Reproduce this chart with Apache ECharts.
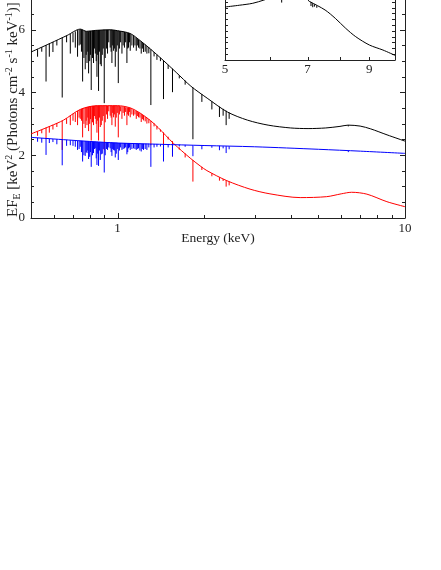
<!DOCTYPE html>
<html>
<head>
<meta charset="utf-8">
<script src="https://cdn.jsdelivr.net/npm/echarts@6/dist/echarts.min.js"></script>
<style>
  html, body { margin: 0; padding: 0; background: #fff; }
  #main { width: 441px; height: 570px; }
</style>
</head>
<body>
<div id="main"></div>
<script>
// continuum: energy (keV) and EF_E
const blackE = [0.5, 0.584, 0.668, 0.742, 0.78, 0.84, 0.943, 1.0, 1.107, 1.2, 1.3, 1.44, 1.6, 1.8, 2.05, 2.41, 2.83, 3.34, 4.0, 4.6, 5.3, 5.94, 6.34, 6.98, 7.6, 8.66, 10];
const blackF = [5.29, 5.57, 5.82, 6.02, 5.95, 5.98, 6.0, 5.97, 5.88, 5.65, 5.39, 5.03, 4.64, 4.2, 3.82, 3.38, 3.12, 2.96, 2.87, 2.85, 2.87, 2.92, 2.96, 2.93, 2.84, 2.65, 2.45];
const redE = [0.5, 0.584, 0.649, 0.742, 0.85, 1.0, 1.107, 1.2, 1.3, 1.385, 1.565, 1.789, 1.938, 2.046, 2.4, 2.89, 3.39, 4.32, 5.34, 6.0, 6.52, 7.37, 8.65, 10];
const redF = [2.68, 2.93, 3.12, 3.46, 3.58, 3.58, 3.51, 3.34, 3.11, 2.88, 2.38, 1.91, 1.66, 1.51, 1.19, 0.92, 0.77, 0.65, 0.68, 0.77, 0.82, 0.76, 0.52, 0.36];
const blueE = [0.5, 0.8, 1.0, 1.4, 2.0, 3.0, 5.0, 7.0, 10];
const blueF = [2.57, 2.44, 2.39, 2.35, 2.31, 2.27, 2.19, 2.13, 2.06];

// absorption lines, shared energies; top and bottom of each line per spectrum
const lineE = [0.527, 0.545, 0.564, 0.579, 0.596, 0.615, 0.642, 0.665, 0.685, 0.70,
  0.713, 0.726, 0.735, 0.742, 0.749, 0.756, 0.764, 0.772, 0.778, 0.783,
  0.788, 0.793, 0.80, 0.805, 0.81, 0.818, 0.825, 0.831, 0.837, 0.843,
  0.848, 0.853, 0.859, 0.865, 0.871, 0.878, 0.885, 0.892, 0.899, 0.906,
  0.915, 0.923, 0.932, 0.943, 0.95, 0.956, 0.962, 0.969, 0.975, 0.982,
  0.99, 0.998, 1.006, 1.015, 1.025, 1.036, 1.046, 1.057, 1.067, 1.078,
  1.085, 1.092, 1.10, 1.107, 1.122, 1.137, 1.15, 1.162, 1.172, 1.183,
  1.196, 1.209, 1.22, 1.231, 1.248, 1.265, 1.285, 1.306, 1.34, 1.371,
  1.41, 1.445, 1.50, 1.553, 1.64, 1.719, 1.829, 1.965, 2.129, 2.262,
  2.33, 2.387, 2.445, 6.35];
const blackTop = [5.38, 5.45, 5.51, 5.56, 5.61, 5.67, 5.75, 5.81, 5.87, 5.91,
  5.95, 5.99, 6.0, 6.02, 6.01, 6.0, 5.98, 5.96, 5.95, 5.95,
  5.95, 5.95, 5.96, 5.96, 5.96, 5.97, 5.97, 5.97, 5.98, 5.98,
  5.98, 5.98, 5.99, 5.99, 5.99, 5.99, 5.99, 6.0, 6.0, 6.0,
  6.0, 6.0, 6.0, 6.0, 6.0, 6.0, 5.99, 5.99, 5.99, 5.98,
  5.98, 5.97, 5.97, 5.96, 5.96, 5.95, 5.94, 5.93, 5.92, 5.91,
  5.9, 5.9, 5.89, 5.88, 5.84, 5.8, 5.77, 5.74, 5.71, 5.68,
  5.66, 5.63, 5.6, 5.57, 5.53, 5.48, 5.44, 5.38, 5.29, 5.21,
  5.11, 5.02, 4.88, 4.76, 4.55, 4.38, 4.16, 3.95, 3.72, 3.55,
  3.48, 3.42, 3.36, 2.96];
const blackBot = [5.14, 5.3, 4.35, 5.14, 5.29, 5.5, 3.84, 5.6, 5.24, 5.6,
  5.43, 5.14, 5.5, 5.53, 5.3, 4.35, 5.1, 4.74, 5.2, 4.94,
  5.3, 4.61, 5.0, 5.2, 4.08, 5.1, 4.94, 5.4, 5.24, 5.0,
  4.5, 5.2, 4.05, 5.3, 4.9, 4.84, 5.2, 5.4, 3.66, 5.1,
  5.4, 5.24, 5.6, 5.43, 5.3, 4.94, 5.5, 5.33, 5.4, 4.82,
  5.3, 5.5, 4.3, 5.4, 5.6, 5.24, 5.5, 5.43, 5.6, 4.94,
  5.4, 5.43, 5.6, 5.33, 5.5, 5.43, 5.5, 5.33, 5.5, 5.43,
  5.4, 5.24, 5.4, 5.29, 5.3, 5.24, 5.25, 3.6, 5.15, 5.04,
  5.0, 3.79, 4.75, 4.01, 4.45, 4.25, 2.51, 3.7, 3.46, 3.22,
  3.26, 2.96, 3.16, 2.92];
const redTop = [2.76, 2.82, 2.88, 2.92, 2.97, 3.03, 3.1, 3.18, 3.26, 3.32,
  3.36, 3.41, 3.44, 3.46, 3.48, 3.5, 3.51, 3.52, 3.53, 3.54,
  3.54, 3.55, 3.56, 3.56, 3.56, 3.57, 3.57, 3.57, 3.58, 3.58,
  3.58, 3.58, 3.58, 3.58, 3.58, 3.58, 3.58, 3.58, 3.58, 3.58,
  3.58, 3.58, 3.58, 3.58, 3.58, 3.58, 3.58, 3.58, 3.58, 3.58,
  3.58, 3.58, 3.58, 3.57, 3.56, 3.56, 3.55, 3.54, 3.53, 3.53,
  3.52, 3.52, 3.51, 3.51, 3.48, 3.45, 3.43, 3.41, 3.39, 3.37,
  3.35, 3.32, 3.29, 3.27, 3.23, 3.19, 3.15, 3.1, 3.02, 2.93,
  2.82, 2.73, 2.59, 2.45, 2.25, 2.06, 1.85, 1.63, 1.43, 1.3,
  1.24, 1.2, 1.16, 0.82];
const redBot = [2.62, 2.7, 2.52, 2.72, 2.82, 2.9, 2.17, 3.0, 2.96, 3.1,
  3.06, 2.96, 3.2, 3.16, 3.1, 2.57, 3.0, 2.87, 3.1, 2.96,
  3.2, 2.77, 3.0, 3.15, 2.47, 3.05, 2.96, 3.25, 3.16, 3.0,
  2.72, 3.1, 2.47, 3.2, 2.9, 2.96, 3.1, 3.25, 2.17, 3.05,
  3.3, 3.16, 3.4, 3.26, 3.2, 2.96, 3.35, 3.21, 3.3, 2.91,
  3.2, 3.35, 2.57, 3.3, 3.4, 3.16, 3.35, 3.26, 3.38, 2.96,
  3.3, 3.26, 3.38, 3.21, 3.3, 3.26, 3.3, 3.16, 3.25, 3.21,
  3.2, 3.06, 3.15, 3.11, 3.08, 3.01, 3.02, 2.32, 2.92, 2.82,
  2.75, 2.32, 2.5, 1.96, 2.18, 1.93, 1.16, 1.53, 1.33, 1.19,
  1.18, 1.0, 1.04, 0.82];
const blueTop = [2.56, 2.55, 2.54, 2.53, 2.52, 2.51, 2.5, 2.49, 2.48, 2.48,
  2.47, 2.47, 2.46, 2.46, 2.46, 2.46, 2.45, 2.45, 2.45, 2.44,
  2.44, 2.44, 2.44, 2.43, 2.43, 2.43, 2.43, 2.43, 2.43, 2.43,
  2.43, 2.42, 2.42, 2.42, 2.42, 2.42, 2.42, 2.42, 2.42, 2.41,
  2.41, 2.41, 2.41, 2.41, 2.41, 2.41, 2.4, 2.4, 2.4, 2.4,
  2.4, 2.4, 2.39, 2.39, 2.39, 2.39, 2.39, 2.39, 2.39, 2.39,
  2.39, 2.39, 2.39, 2.38, 2.38, 2.38, 2.38, 2.38, 2.38, 2.38,
  2.38, 2.37, 2.37, 2.37, 2.37, 2.37, 2.37, 2.36, 2.36, 2.36,
  2.35, 2.35, 2.35, 2.34, 2.34, 2.33, 2.32, 2.31, 2.3, 2.3,
  2.29, 2.29, 2.29, 2.14];
const blueBot = [2.43, 2.4, 2.01, 2.39, 2.42, 2.35, 1.68, 2.3, 2.32, 2.3,
  2.27, 2.17, 2.2, 2.27, 2.1, 1.8, 2.0, 1.98, 2.1, 2.07,
  2.15, 1.88, 1.95, 2.1, 1.63, 2.0, 2.07, 2.2, 2.22, 1.9,
  1.69, 2.05, 1.66, 2.15, 1.85, 2.03, 2.05, 2.2, 1.45, 2.0,
  2.2, 2.17, 2.25, 2.22, 2.1, 1.98, 2.2, 2.17, 2.15, 1.93,
  2.05, 2.2, 1.85, 2.15, 2.25, 2.17, 2.2, 2.22, 2.25, 2.03,
  2.1, 2.22, 2.25, 2.17, 2.2, 2.22, 2.2, 2.17, 2.2, 2.22,
  2.15, 2.12, 2.2, 2.17, 2.2, 2.17, 2.25, 1.63, 2.25, 2.27,
  2.28, 1.8, 2.25, 1.96, 2.28, 2.27, 1.97, 2.19, 2.24, 2.16,
  2.22, 2.07, 2.19, 2.1];

// inset (5-10 keV zoom)
const insetE = [5.0, 5.3, 5.6, 5.86, 6.1, 6.4, 6.7, 6.98, 7.03, 7.07, 7.52, 7.84, 8.18, 8.52, 9.01, 9.52, 10];
const insetF = [2.857, 2.872, 2.889, 2.917, 2.945, 2.97, 2.975, 2.965, 2.91, 2.903, 2.831, 2.759, 2.673, 2.601, 2.529, 2.486, 2.44];
const insetLineE = [6.3, 7.1, 7.15, 7.2, 7.27];
const insetLineTop = [2.965, 2.9, 2.89, 2.88, 2.87];
const insetLineBot = [2.895, 2.865, 2.855, 2.86, 2.85];

// ticks
const xMajorTicks = [1, 10];
const xMinorTicks = [0.6, 0.7, 0.8, 0.9, 2, 3, 4, 5, 6, 7, 8, 9];
const xTickLabels = [1, 10];
const insetTicks = [6, 7, 8, 9];
const insetTickLabels = [5, 7, 9];

const FONT = 'Liberation Serif';
const AXIS = '#222';

function zip(xs, ys) {
  return xs.map((x, i) => [x, ys[i]]);
}
function zip3(xs, a, b) {
  return xs.map((x, i) => [x, a[i], b[i]]);
}

function contSeries(name, xs, ys, color, xi, yi, z) {
  return {
    name: name, type: 'line', xAxisIndex: xi, yAxisIndex: yi,
    data: zip(xs, ys), smooth: 0.3, showSymbol: false, symbol: 'none',
    lineStyle: { color: color, width: 1 }, z: z, silent: true
  };
}

function linesSeries(data, color, xi, yi, z) {
  return {
    type: 'custom', xAxisIndex: xi, yAxisIndex: yi, data: data, z: z, silent: true, clip: true,
    renderItem: function (params, api) {
      const a = api.coord([api.value(0), api.value(1)]);
      const b = api.coord([api.value(0), api.value(2)]);
      return { type: 'line', shape: { x1: a[0], y1: a[1], x2: a[0], y2: b[1] }, style: { stroke: color, lineWidth: 1 } };
    }
  };
}

function tickSeries(values, yRef, len, xi, yi) {
  return {
    type: 'custom', xAxisIndex: xi, yAxisIndex: yi, data: values.map(v => [v, yRef]), z: 10, silent: true,
    renderItem: function (params, api) {
      const p = api.coord([api.value(0), api.value(1)]);
      const cs = params.coordSys;
      const b = cs.y + cs.height;
      const x = Math.round(p[0]) + 0.5;
      return { type: 'line', shape: { x1: x, y1: b, x2: x, y2: b - len }, style: { stroke: AXIS, lineWidth: 1 } };
    }
  };
}

function labelSeries(values, yRef, gap, xi, yi) {
  return {
    type: 'custom', xAxisIndex: xi, yAxisIndex: yi, data: values.map(v => [v, yRef]), z: 10, silent: true,
    renderItem: function (params, api) {
      const p = api.coord([api.value(0), api.value(1)]);
      const cs = params.coordSys;
      return {
        type: 'text', x: p[0], y: cs.y + cs.height + gap,
        style: { text: String(api.value(0)), fontFamily: FONT, fontSize: 13, fill: AXIS, align: 'center', verticalAlign: 'middle' }
      };
    }
  };
}

const yTitle = '{b|EF}{sub|E}{b| [keV}{sup|2}{b| (Photons cm}{sup|-2}{b| s}{sup|-1}{b| keV}{sup|-1}{b|)]}';

const chart = echarts.init(document.getElementById('main'), null, { renderer: 'canvas' });
chart.setOption({
  backgroundColor: '#fff',
  animation: false,
  grid: [
    { left: 31, right: 36, top: -33, bottom: 352, outerBoundsMode: 'none', containLabel: false },
    { left: 225, right: 46, top: -27, bottom: 510, outerBoundsMode: 'none', containLabel: false }
  ],
  xAxis: [
    {
      gridIndex: 0, type: 'log', logBase: 10, min: 0.5, max: 10,
      axisLine: { show: true, lineStyle: { color: AXIS, width: 1 } },
      axisTick: { show: false }, axisLabel: { show: false }, splitLine: { show: false }, minorTick: { show: false }
    },
    {
      gridIndex: 1, type: 'log', logBase: 10, min: 5, max: 10,
      axisLine: { show: true, lineStyle: { color: AXIS, width: 1 } },
      axisTick: { show: false }, axisLabel: { show: false }, splitLine: { show: false }, minorTick: { show: false }
    }
  ],
  yAxis: [
    {
      gridIndex: 0, type: 'value', min: 0, max: 8, interval: 2, position: 'left',
      axisLine: { show: true, lineStyle: { color: AXIS, width: 1 } },
      axisTick: { show: true, inside: true, length: 5, lineStyle: { color: AXIS } },
      minorTick: { show: true, splitNumber: 4, length: 3, lineStyle: { color: AXIS } },
      splitLine: { show: false }, minorSplitLine: { show: false },
      axisLabel: { margin: 6, fontFamily: FONT, fontSize: 13, color: AXIS }
    },
    {
      gridIndex: 0, type: 'value', min: 0, max: 8, interval: 2, position: 'right',
      axisLine: { show: true, lineStyle: { color: AXIS, width: 1 } },
      axisTick: { show: true, inside: true, length: 5, lineStyle: { color: AXIS } },
      minorTick: { show: true, splitNumber: 4, length: 3, lineStyle: { color: AXIS } },
      splitLine: { show: false }, axisLabel: { show: false }
    },
    {
      gridIndex: 1, type: 'value', min: 2.4, max: 3.15, interval: 0.05, position: 'left',
      axisLine: { show: true, lineStyle: { color: AXIS, width: 1 } },
      axisTick: { show: true, inside: true, length: 3, lineStyle: { color: AXIS } },
      splitLine: { show: false }, axisLabel: { show: false }
    },
    {
      gridIndex: 1, type: 'value', min: 2.4, max: 3.15, interval: 0.05, position: 'right',
      axisLine: { show: true, lineStyle: { color: AXIS, width: 1 } },
      axisTick: { show: true, inside: true, length: 3, lineStyle: { color: AXIS } },
      splitLine: { show: false }, axisLabel: { show: false }
    }
  ],
  graphic: [
    {
      type: 'text', x: 13, y: 217, rotation: Math.PI / 2, silent: true,
      style: {
        text: yTitle, fontFamily: FONT, fontSize: 15, fill: AXIS, align: 'left', verticalAlign: 'middle',
        rich: {
          b: { fontFamily: FONT, fontSize: 15, fill: AXIS, lineHeight: 18 },
          sup: { fontFamily: FONT, fontSize: 10, fill: AXIS, lineHeight: 10, verticalAlign: 'top' },
          sub: { fontFamily: FONT, fontSize: 10, fill: AXIS, lineHeight: 10, verticalAlign: 'bottom' }
        }
      }
    },
    {
      type: 'text', x: 218, y: 238, silent: true,
      style: { text: 'Energy (keV)', fontFamily: FONT, fontSize: 13.5, fill: AXIS, align: 'center', verticalAlign: 'middle' }
    }
  ],
  series: [
    contSeries('red', redE, redF, '#ff0000', 0, 0, 2),
    linesSeries(zip3(lineE, redTop, redBot), '#ff0000', 0, 0, 2),
    contSeries('blue', blueE, blueF, '#0000ff', 0, 0, 3),
    linesSeries(zip3(lineE, blueTop, blueBot), '#0000ff', 0, 0, 3),
    contSeries('black', blackE, blackF, '#000000', 0, 0, 4),
    linesSeries(zip3(lineE, blackTop, blackBot), '#000000', 0, 0, 4),
    tickSeries(xMajorTicks, 1, 5, 0, 0),
    tickSeries(xMinorTicks, 1, 3, 0, 0),
    labelSeries(xTickLabels, 1, 11, 0, 0),
    contSeries('inset', insetE, insetF, '#000000', 1, 2, 4),
    linesSeries(zip3(insetLineE, insetLineTop, insetLineBot), '#000000', 1, 2, 4),
    tickSeries(insetTicks, 2.5, 3, 1, 2),
    labelSeries(insetTickLabels, 2.5, 10, 1, 2)
  ]
});
</script>
</body>
</html>
